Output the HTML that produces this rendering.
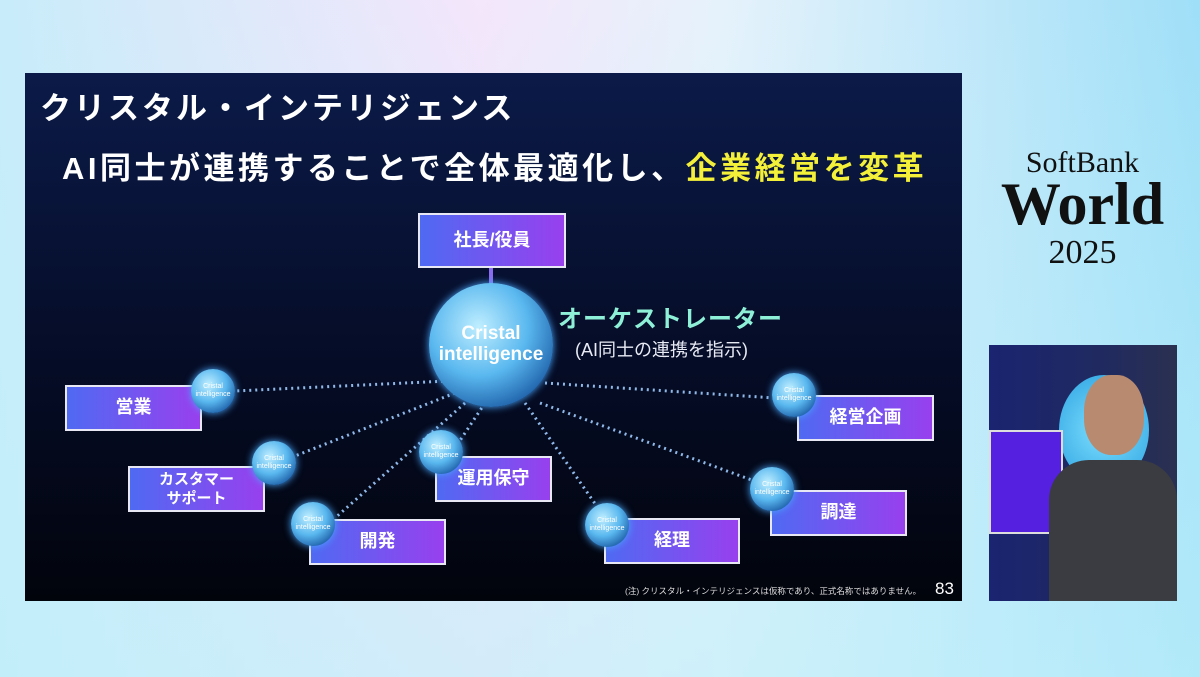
<!DOCTYPE html>
<html><head><meta charset="utf-8"><style>
body{margin:0;width:1200px;height:677px;overflow:hidden;position:relative;font-family:"Liberation Sans","Noto Sans CJK JP",sans-serif;
background:linear-gradient(90deg,#c8ecfa 0%,#f4e6fb 40%,#e6f2fb 60%,#9fdff8 100%);}
.bg2{position:absolute;inset:0;background:linear-gradient(180deg,rgba(255,255,255,0) 0%,rgba(190,240,250,0.6) 100%);}
.slide{position:absolute;left:25px;top:73px;width:937px;height:528px;background:linear-gradient(180deg,#0b1a48 0%,#050c26 55%,#02040c 100%);overflow:hidden}
.t{position:absolute;color:#fff;font-weight:bold;white-space:nowrap}
.box{position:absolute;border:2px solid #e8e8f4;background:linear-gradient(90deg,#4f6af2,#9840ee);color:#fff;font-weight:bold;display:flex;align-items:center;justify-content:center;text-align:center;font-size:18px;box-sizing:border-box;line-height:1.3}
.sp{position:absolute;border-radius:50%;background:radial-gradient(circle at 40% 35%,#bfeeff 0%,#5ab8ef 45%,#1d5fa8 80%,#103a78 100%);box-shadow:0 0 8px #4aa8ff;color:#fff;display:flex;align-items:center;justify-content:center;text-align:center;font-size:7px;line-height:1.1}
.logo{position:absolute;font-family:"Liberation Serif",serif;color:#111;text-align:center;left:990px;width:185px}
</style></head><body>
<div class="bg2"></div>
<div class="logo" style="top:146px;font-size:30px">SoftBank</div>
<div class="logo" style="top:172px;font-size:60px;line-height:64px;font-weight:bold">World</div>
<div class="logo" style="top:234px;font-size:34px">2025</div>
<div style="position:absolute;left:989px;top:345px;width:188px;height:256px;background:linear-gradient(90deg,#1a2470,#202a60 60%,#2a3050);overflow:hidden">
 <div style="position:absolute;left:70px;top:30px;width:90px;height:110px;border-radius:50%;background:radial-gradient(circle,#7fe0ff,#2aa0e0)"></div>
 <div style="position:absolute;left:0;top:85px;width:70px;height:100px;background:#5520e0;border:2px solid #ddd"></div>
 <div style="position:absolute;left:95px;top:30px;width:60px;height:80px;border-radius:45%;background:#b88a70"></div>
 <div style="position:absolute;left:60px;top:115px;width:128px;height:141px;border-radius:40px 40px 0 0;background:#3a3c42"></div>
</div>
<div class="slide">
<svg width="937" height="528" style="position:absolute;left:0;top:0">
<g stroke="#8fb8e8" stroke-width="3" stroke-dasharray="2 4" fill="none">
<line x1="466" y1="306" x2="210" y2="318"/>
<line x1="430" y1="320" x2="270" y2="383"/>
<line x1="440" y1="330" x2="310" y2="445"/>
<line x1="460" y1="330" x2="420" y2="390"/>
<line x1="500" y1="330" x2="580" y2="445"/>
<line x1="520" y1="310" x2="750" y2="325"/>
<line x1="515" y1="330" x2="735" y2="410"/>
</g>
<line x1="466" y1="195" x2="466" y2="215" stroke="#8a6cf0" stroke-width="4"/>
</svg>
<div class="t" style="left:15px;top:10px;font-size:31px;letter-spacing:3px">クリスタル・インテリジェンス</div>
<div class="t" style="left:37px;top:70px;font-size:31px;letter-spacing:3.5px">AI同士が連携することで全体最適化し、<span style="color:#f4f03a">企業経営を変革</span></div>
<div class="box" style="left:393px;top:140px;width:148px;height:55px">社長/役員</div>
<div class="sp" style="left:404px;top:210px;width:124px;height:124px;font-size:19px;font-weight:bold">Cristal<br>intelligence</div>
<div class="t" style="left:533px;top:226px;font-size:24px;color:#8ff0d8;letter-spacing:1px">オーケストレーター</div>
<div class="t" style="left:550px;top:263px;font-size:18px;font-weight:normal;color:#e8eaf4">(AI同士の連携を指示)</div>
<div class="box" style="left:40px;top:312px;width:137px;height:46px">営業</div>
<div class="box" style="left:103px;top:393px;width:137px;height:46px;font-size:15px">カスタマー<br>サポート</div>
<div class="box" style="left:284px;top:446px;width:137px;height:46px">開発</div>
<div class="box" style="left:410px;top:383px;width:117px;height:46px">運用保守</div>
<div class="box" style="left:579px;top:445px;width:136px;height:46px">経理</div>
<div class="box" style="left:772px;top:322px;width:137px;height:46px">経営企画</div>
<div class="box" style="left:745px;top:417px;width:137px;height:46px">調達</div>
<div class="sp" style="left:166px;top:296px;width:44px;height:44px">Cristal<br>intelligence</div>
<div class="sp" style="left:227px;top:368px;width:44px;height:44px">Cristal<br>intelligence</div>
<div class="sp" style="left:266px;top:429px;width:44px;height:44px">Cristal<br>intelligence</div>
<div class="sp" style="left:394px;top:357px;width:44px;height:44px">Cristal<br>intelligence</div>
<div class="sp" style="left:560px;top:430px;width:44px;height:44px">Cristal<br>intelligence</div>
<div class="sp" style="left:747px;top:300px;width:44px;height:44px">Cristal<br>intelligence</div>
<div class="sp" style="left:725px;top:394px;width:44px;height:44px">Cristal<br>intelligence</div>
<div class="t" style="left:600px;top:512px;font-size:8.5px;font-weight:normal;color:#ddd">(注) クリスタル・インテリジェンスは仮称であり、正式名称ではありません。</div>
<div class="t" style="left:910px;top:506px;font-size:17px;font-weight:normal">83</div>
</div>
</body></html>
